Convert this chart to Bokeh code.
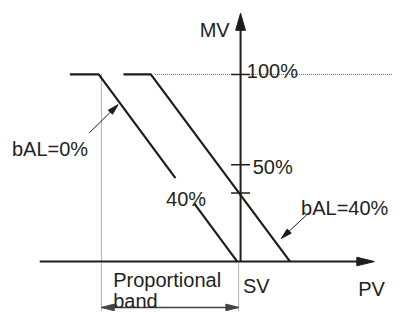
import numpy as np
from bokeh.plotting import figure
from bokeh.core.properties import value
from bokeh.embed import file_html
from bokeh.resources import INLINE

# ---- data (PV: proportional-band units with SV = 0, band = 100; MV in %) ----
band_edges_pv = [-100, 0]
mv_axis_pv = 1.4
line_bal0_pv = [-123, -102, -1]
line_bal0_mv = [100, 100, 0]
line_bal40_pv = [-84, -64, 37.5]
line_bal40_mv = [100, 100, 0]
gap_40_mv = [44.6, 31.1]          # gap in bAL=0% line for its "40%" label
tick_mv = [100, 51.7, 36.7]
limit_mv = 100
x_axis_pv = [-145, 99]
y_axis_mv = [0, 132.7]
band_arrow_mv = -24.5
guide_bottom_mv = -27

label_texts = ["MV", "100%", "50%", "40%", "bAL=0%", "bAL=40%", "Proportional", "band", "SV", "PV"]
label_pv = [-28.4, 6.0, 10.2, -52.9, -165.2, 45.5, -91.4, -91.4, 3.1, 87.1]
label_mv = [123.9, 101.9, 50.6, 33.6, 60.2, 28.6, -9.9, -21.1, -13.0, -14.6]

callout_bal0 = dict(tail=(-108.8, 68.8), tip=(-87.9, 83.8))
callout_bal40 = dict(tail=(51.4, 26.2), tip=(31.2, 12.4))

# ---- drawing scale (reference-pixel frame) ----
PX_PV = 1.4
PX_MV = 1.968
X_REF0, Y_REF0 = 243, 274.5

def pv_of(px):
    return (px - X_REF0) / PX_PV

def mv_of(py):
    return (Y_REF0 - py) / PX_MV

p = figure(width=392, height=311, output_backend="svg", toolbar_location=None,
           x_range=(pv_of(0), pv_of(400)), y_range=(mv_of(327), mv_of(0)),
           x_axis_type=None, y_axis_type=None, min_border=0,
           background_fill_color="white", border_fill_color="white")
p.grid.visible = False
p.outline_line_color = None

INK = "#1d1d1b"
DOT = "#666666"

def head(tail, tip, length, width):
    dx = (tip[0] - tail[0]) * PX_PV
    dy = (tip[1] - tail[1]) * PX_MV
    n = np.hypot(dx, dy)
    ux, uy = dx / n, dy / n
    bx, by = -ux * length, -uy * length
    nx, ny = -uy * width / 2, ux * width / 2
    xs = [tip[0], tip[0] + (bx + nx) / PX_PV, tip[0] + (bx - nx) / PX_PV]
    ys = [tip[1], tip[1] + (by + ny) / PX_MV, tip[1] + (by - ny) / PX_MV]
    return xs, ys

# dotted guides
p.line([line_bal40_pv[1] + 3, pv_of(420)], [limit_mv, limit_mv], line_color=DOT,
       line_width=1, line_dash="1 1")
p.line([band_edges_pv[0]] * 2, [limit_mv, guide_bottom_mv], line_color=DOT,
       line_width=1, line_dash="1 1")
p.line([band_edges_pv[1]] * 2, [0, guide_bottom_mv], line_color=DOT,
       line_width=1, line_dash="1 1")

# axes
p.line([x_axis_pv[0], x_axis_pv[1] - 10], [0, 0], line_color=INK, line_width=2)
hx, hy = head((x_axis_pv[0], 0), (x_axis_pv[1], 0), 18, 9)
p.patch(hx, hy, fill_color=INK, line_color=INK, line_width=1)
p.line([mv_axis_pv, mv_axis_pv], [y_axis_mv[0], y_axis_mv[1] - 5], line_color=INK, line_width=2)
hx, hy = head((mv_axis_pv, 0), (mv_axis_pv, y_axis_mv[1]), 18, 10)
p.patch(hx, hy, fill_color=INK, line_color=INK, line_width=1)

# ticks on MV axis
p.scatter([mv_axis_pv] * len(tick_mv), tick_mv, marker="dash", size=19,
          line_color=INK, line_width=1.5)

# bAL=0% line with gap for label
diag_mv = line_bal0_mv[1:][::-1]
diag_pv = line_bal0_pv[1:][::-1]
g_hi_pv = float(np.interp(gap_40_mv[0], diag_mv, diag_pv))
g_lo_pv = float(np.interp(gap_40_mv[1], diag_mv, diag_pv))
p.line(line_bal0_pv[:2] + [g_hi_pv], line_bal0_mv[:2] + [gap_40_mv[0]],
       line_color=INK, line_width=2.2)
p.line([g_lo_pv, line_bal0_pv[2]], [gap_40_mv[1], line_bal0_mv[2]],
       line_color=INK, line_width=2.2)

# bAL=40% line
p.line(line_bal40_pv, line_bal40_mv, line_color=INK, line_width=2.2)

# callout arrows
for c in (callout_bal0, callout_bal40):
    p.line([c["tail"][0], c["tip"][0]], [c["tail"][1], c["tip"][1]], line_color=INK, line_width=1)
    hx, hy = head(c["tail"], c["tip"], 11, 6)
    p.patch(hx, hy, fill_color=INK, line_color=INK, line_width=1)

# proportional band double arrow
BAND = "#444444"
p.line(band_edges_pv, [band_arrow_mv] * 2, line_color=BAND, line_width=1.5)
for a, b in ((band_edges_pv[1], band_edges_pv[0]), (band_edges_pv[0], band_edges_pv[1])):
    hx, hy = head((a, band_arrow_mv), (b, band_arrow_mv), 13, 7)
    p.patch(hx, hy, fill_color=BAND, line_color=BAND, line_width=1)

# labels
p.text(x=label_pv, y=label_mv, text=label_texts, text_font=value("Liberation Sans"),
       text_font_size="20px", text_baseline="alphabetic", text_align="left",
       text_color="#231f20")

open("out.html", "w").write(file_html(p, INLINE))
